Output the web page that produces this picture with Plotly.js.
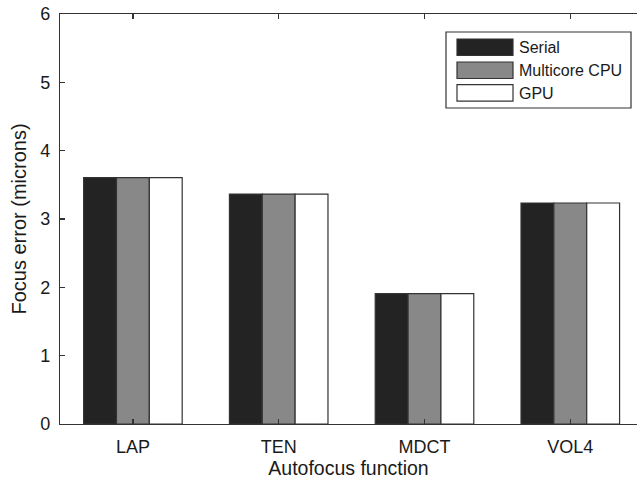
<!DOCTYPE html>
<html>
<head>
<meta charset="utf-8">
<script src="https://cdn.plot.ly/plotly-3.0.1.min.js"></script>
<style>html,body{margin:0;padding:0;background:#fff;} #chart{width:637px;height:482px;}</style>
</head>
<body>
<div id="chart"></div>
<script>
const categories = ["LAP", "TEN", "MDCT", "VOL4"];
const seriesNames = ["Serial", "Multicore CPU", "GPU"];
const serial = [3.605, 3.365, 1.907, 3.234];
const multicore = [3.605, 3.365, 1.907, 3.234];
const gpu = [3.605, 3.365, 1.907, 3.234];
const yTicks = [0, 1, 2, 3, 4, 5, 6];

const colors = ["#232323", "#888888", "#ffffff"];
const values = [serial, multicore, gpu];
const xpos = categories.map((c, i) => i + 1);

const traces = values.map((v, k) => ({
  type: "bar",
  name: seriesNames[k],
  x: xpos,
  y: v,
  marker: {color: colors[k], line: {color: "#333333", width: 1.2}},
  showlegend: false,
  hoverinfo: "skip"
}));

const fontFam = "Liberation Sans, Arial, sans-serif";
const shapes = [];
const annotations = [];
const W = 637, H = 482, ml = 60, mr = 0, mt = 14, mb = 58;
const pw = W - ml - mr, ph = H - mt - mb;
const px = x => (x - ml) / pw;
const py = y => 1 - (y - mt) / ph;
shapes.push({type: "rect", xref: "paper", yref: "paper", x0: px(446), x1: px(631), y0: py(32), y1: py(108),
  line: {color: "#333333", width: 1.2}, fillcolor: "#ffffff", layer: "above"});
const rowTop = [39, 62, 84.7];
seriesNames.forEach((n, k) => {
  shapes.push({type: "rect", xref: "paper", yref: "paper", x0: px(457), x1: px(513), y0: py(rowTop[k]), y1: py(rowTop[k] + 16.5),
    line: {color: "#333333", width: 1.2}, fillcolor: colors[k], layer: "above"});
  annotations.push({xref: "paper", yref: "paper", x: px(517), y: py(rowTop[k] + 8.5), xanchor: "left", yanchor: "middle",
    text: n, showarrow: false, font: {family: fontFam, size: 16, color: "#1a1a1a"}});
});

const layout = {
  width: W, height: H,
  margin: {l: ml, r: mr, t: mt, b: mb, pad: 0},
  paper_bgcolor: "#ffffff", plot_bgcolor: "#ffffff",
  barmode: "group", bargap: 0.324, bargroupgap: 0,
  font: {family: fontFam, color: "#1a1a1a"},
  xaxis: {
    range: [0.5, 0.5 + pw / 145.8],
    tickvals: xpos, ticktext: categories,
    ticks: "inside", ticklen: 5, tickcolor: "#333333", tickwidth: 1.2,
    showline: true, linecolor: "#333333", linewidth: 1.2, mirror: "ticks",
    showgrid: false, zeroline: false,
    ticklabelstandoff: 6,
    tickfont: {size: 18, family: fontFam, color: "#1a1a1a"},
    title: {text: "Autofocus function", font: {size: 19.5, family: fontFam, color: "#1a1a1a"}, standoff: 4},
    fixedrange: true
  },
  yaxis: {
    range: [0, 6], tickvals: yTicks,
    ticks: "inside", ticklen: 5, tickcolor: "#333333", tickwidth: 1.2,
    showline: true, linecolor: "#333333", linewidth: 1.2, mirror: false,
    showgrid: false, zeroline: false,
    ticklabelstandoff: 5,
    tickfont: {size: 18, family: fontFam, color: "#1a1a1a"},
    title: {text: "Focus error (microns)", font: {size: 20, family: fontFam, color: "#1a1a1a"}, standoff: 8},
    fixedrange: true
  },
  shapes: shapes,
  annotations: annotations
};

Plotly.newPlot("chart", traces, layout, {displayModeBar: false, staticPlot: true});
</script>
</body>
</html>
